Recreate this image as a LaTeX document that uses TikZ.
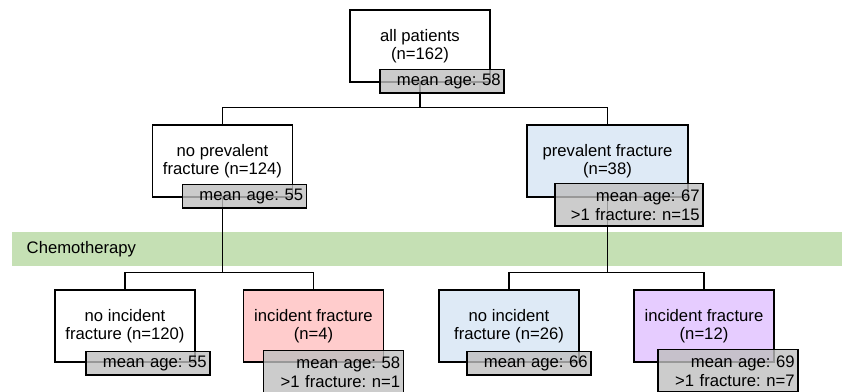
\documentclass[tikz,border=0pt]{standalone}
\usepackage{fontspec}
\setmainfont{Liberation Sans}
\usetikzlibrary{positioning}
\frenchspacing

\definecolor{bandgreen}{HTML}{C5E0B4}
\definecolor{prevblue}{HTML}{DEEAF6}
\definecolor{incred}{HTML}{FFCCCC}
\definecolor{incpurple}{HTML}{E6CCFF}
\definecolor{infogrey}{HTML}{BFBFBF}

\begin{document}
\begin{tikzpicture}[x=0.75pt, y=0.75pt, line width=1.1pt,
  font=\fontsize{12.5}{13.5}\selectfont,
  group/.style={rectangle, draw, fill=white, align=center, inner sep=0pt,
    minimum width=105pt, minimum height=54pt},
  info/.style={rectangle, draw, fill=infogrey, fill opacity=0.8,
    text opacity=1, draw opacity=1, align=right, text width=#1,
    inner xsep=2.5pt, inner ysep=2pt, minimum height=17.5pt, anchor=north east,
    font=\fontsize{12.5}{14.2}\selectfont},
  info/.default=88pt,
  twoline/.style={minimum height=32pt}]
  \useasboundingbox (0,0) rectangle (842,-392);

  % Treatment band
  \fill[bandgreen] (12,-232) rectangle (842,-266);
  \node[anchor=west, inner sep=0pt] (chemo) at (26,-249) {Chemotherapy};

  % Groups
  \node[group] (all) at (420,-46) {all patients\\(n=162)};
  \node[group] (noprev) at (222.5,-161) {no prevalent\\fracture (n=124)};
  \node[group, fill=prevblue, minimum width=120.75pt] (prev) at (607.5,-161) {prevalent fracture\\(n=38)};
  \node[group] (noincA) at (125,-326) {no incident\\fracture (n=120)};
  \node[group, fill=incred] (incA) at (313.5,-326) {incident fracture\\(n=4)};
  \node[group, fill=prevblue] (noincB) at (509,-326) {no incident\\fracture (n=26)};
  \node[group, fill=incpurple] (incB) at (704,-326) {incident fracture\\(n=12)};

  % Connectors
  \draw (all.south) |- ([shift={(0,17)}]noprev.north) -- (noprev.north);
  \draw (all.south) |- ([shift={(0,17)}]prev.north) -- (prev.north);
  \draw (noprev.south) |- ([shift={(0,17)}]noincA.north) -- (noincA.north);
  \draw (noprev.south) |- ([shift={(0,17)}]incA.north) -- (incA.north);
  \draw (prev.south) |- ([shift={(0,17)}]noincB.north) -- (noincB.north);
  \draw (prev.south) |- ([shift={(0,17)}]incB.north) -- (incB.north);

  % Summaries
  \node[info] (allinfo) at ([shift={(14,14)}]all.south east) {mean age: 58};
  \node[info] (noprevinfo) at ([shift={(14,14)}]noprev.south east) {mean age: 55};
  \node[info=106pt, twoline] (previnfo) at ([shift={(15,15)}]prev.south east) {mean age: 67\\>1 fracture: n=15};
  \node[info] (noincAinfo) at ([shift={(15,12)}]noincA.south east) {mean age: 55};
  \node[info=100pt, twoline] (incAinfo) at ([shift={(20,13)}]incA.south east) {mean age: 58\\>1 fracture: n=1};
  \node[info] (noincBinfo) at ([shift={(12,12)}]noincB.south east) {mean age: 66};
  \node[info=100pt, twoline] (incBinfo) at ([shift={(24,14)}]incB.south east) {mean age: 69\\>1 fracture: n=7};
\end{tikzpicture}
\end{document}
